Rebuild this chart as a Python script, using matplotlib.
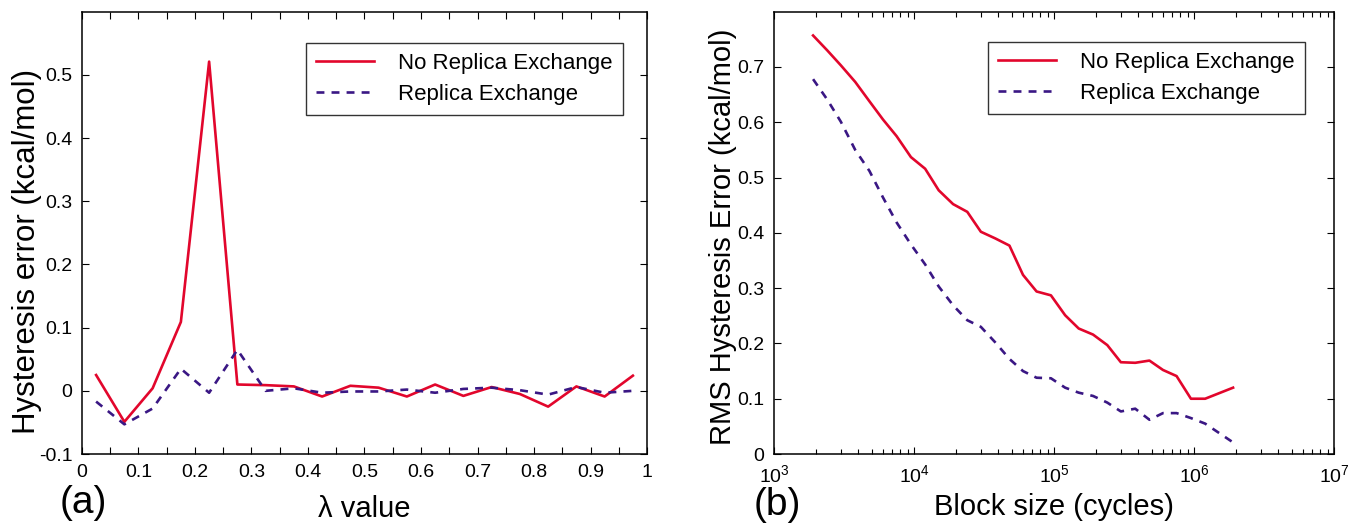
import matplotlib
matplotlib.use("Agg")
import matplotlib.pyplot as plt
from matplotlib.ticker import LogLocator, NullFormatter

plt.rcParams['font.family'] = ['Liberation Sans', 'DejaVu Sans']
plt.rcParams['mathtext.fontset'] = 'custom'
plt.rcParams['mathtext.rm'] = 'Liberation Sans'
plt.rcParams['mathtext.default'] = 'regular'

RED = '#e2062c'
BLUE = '#3a1784'

# panel (a): hysteresis error per lambda window
lam = [0.025, 0.075, 0.125, 0.175, 0.225, 0.275, 0.325, 0.375, 0.425, 0.475,
       0.525, 0.575, 0.625, 0.675, 0.725, 0.775, 0.825, 0.875, 0.925, 0.975]
hyst_no_rex = [0.025, -0.049, 0.004, 0.109, 0.521, 0.010, 0.009, 0.007, -0.009, 0.008,
               0.005, -0.009, 0.010, -0.008, 0.006, -0.005, -0.025, 0.007, -0.009, 0.024]
hyst_rex = [-0.017, -0.053, -0.028, 0.035, -0.003, 0.065, 0.000, 0.004, -0.003, -0.001,
            -0.001, 0.002, -0.003, 0.003, 0.005, 0.001, -0.006, 0.006, -0.003, 0.000]

# panel (b): RMS hysteresis error vs block size
block = [1.9e3, 2.4e3, 3.0e3, 3.8e3, 4.8e3, 6.0e3, 7.5e3, 9.5e3, 1.2e4, 1.5e4,
         1.9e4, 2.4e4, 3.0e4, 3.8e4, 4.8e4, 6.0e4, 7.5e4, 9.5e4, 1.2e5, 1.5e5,
         1.9e5, 2.4e5, 3.0e5, 3.8e5, 4.8e5, 6.0e5, 7.5e5, 9.5e5, 1.2e6, 1.9e6]
rms_no_rex = [0.757, 0.730, 0.703, 0.673, 0.638, 0.605, 0.575, 0.537, 0.516, 0.477,
              0.452, 0.438, 0.402, 0.390, 0.377, 0.324, 0.294, 0.287, 0.251, 0.227,
              0.216, 0.197, 0.166, 0.165, 0.169, 0.152, 0.141, 0.100, 0.100, 0.120]
rms_rex = [0.678, 0.641, 0.601, 0.550, 0.512, 0.464, 0.419, 0.379, 0.343, 0.303,
           0.269, 0.242, 0.230, 0.202, 0.172, 0.150, 0.138, 0.137, 0.120, 0.111,
           0.105, 0.093, 0.077, 0.082, 0.062, 0.074, 0.074, 0.065, 0.055, 0.021]

lam_ticks = [0, 0.1, 0.2, 0.3, 0.4, 0.5, 0.6, 0.7, 0.8, 0.9, 1]
lam_labels = ['0', '0.1', '0.2', '0.3', '0.4', '0.5', '0.6', '0.7', '0.8', '0.9', '1']
hyst_ticks = [-0.1, 0, 0.1, 0.2, 0.3, 0.4, 0.5]
hyst_labels = ['-0.1', '0', '0.1', '0.2', '0.3', '0.4', '0.5']
rms_ticks = [0, 0.1, 0.2, 0.3, 0.4, 0.5, 0.6, 0.7]
rms_labels = ['0', '0.1', '0.2', '0.3', '0.4', '0.5', '0.6', '0.7']

fig = plt.figure(figsize=(13.53, 5.25), dpi=100)
ax1 = fig.add_axes([0.0606, 0.1352, 0.4176, 0.8425])
ax2 = fig.add_axes([0.5721, 0.1352, 0.4139, 0.8425])

LW = 1.9
DASH = (3.0, 2.7)

for ax in (ax1, ax2):
    for s in ax.spines.values():
        s.set_linewidth(1.1)
    ax.tick_params(which='both', direction='in', top=True, right=True,
                   labelsize=14, width=0.8, pad=7)
    ax.tick_params(which='major', length=5)
    ax.tick_params(which='minor', length=3.5)

leg_kw = dict(loc='upper right', fontsize=16, frameon=True, fancybox=False,
              handlelength=2.6, handletextpad=1.1, borderpad=0.45,
              labelspacing=0.45, borderaxespad=0)

# (a)
ax1.plot(lam, hyst_no_rex, color=RED, lw=LW, label='No Replica Exchange')
ax1.plot(lam, hyst_rex, color=BLUE, lw=LW, dashes=DASH, label='Replica Exchange')
ax1.set_xlim(0, 1)
ax1.set_ylim(-0.1, 0.6)
ax1.set_xticks(lam_ticks)
ax1.set_xticklabels(lam_labels)
ax1.set_xticks([0.05, 0.15, 0.25, 0.35, 0.45, 0.55, 0.65, 0.75, 0.85, 0.95], minor=True)
ax1.tick_params(which='minor', length=5)
ax1.set_yticks(hyst_ticks)
ax1.set_yticklabels(hyst_labels)
ax1.set_xlabel('λ value', fontsize=21)
ax1.set_ylabel('Hysteresis error (kcal/mol)', fontsize=22.5)
ax1.yaxis.set_label_coords(-0.071, 0.457)
ax1.xaxis.set_label_coords(0.5, -0.093)
leg1 = ax1.legend(bbox_to_anchor=(0.9575, 0.929), **leg_kw)
leg1.get_frame().set_edgecolor('black')
leg1.get_frame().set_linewidth(1.0)

# (b)
ax2.plot(block, rms_no_rex, color=RED, lw=LW, label='No Replica Exchange')
ax2.plot(block, rms_rex, color=BLUE, lw=LW, dashes=DASH, label='Replica Exchange')
ax2.set_xscale('log')
ax2.set_xlim(1e3, 1e7)
ax2.set_ylim(0, 0.8)
ax2.xaxis.set_major_locator(LogLocator(base=10, numticks=10))
ax2.xaxis.set_minor_locator(LogLocator(base=10, subs=range(2, 10), numticks=20))
ax2.xaxis.set_minor_formatter(NullFormatter())
ax2.set_yticks(rms_ticks)
ax2.set_yticklabels(rms_labels)
ax2.set_xlabel('Block size (cycles)', fontsize=21)
ax2.set_ylabel('RMS Hysteresis Error (kcal/mol)', fontsize=21)
ax2.yaxis.set_label_coords(-0.066, 0.49)
ax2.xaxis.set_label_coords(0.5, -0.088)
leg2 = ax2.legend(bbox_to_anchor=(0.948, 0.932), **leg_kw)
leg2.get_frame().set_edgecolor('black')
leg2.get_frame().set_linewidth(1.0)

fig.text(83 / 1353, 1 - 503 / 525, '(a)', fontsize=28, ha='center', va='center')
fig.text(777 / 1353, 1 - 505 / 525, '(b)', fontsize=28, ha='center', va='center')

fig.savefig('out.png', dpi=100)
